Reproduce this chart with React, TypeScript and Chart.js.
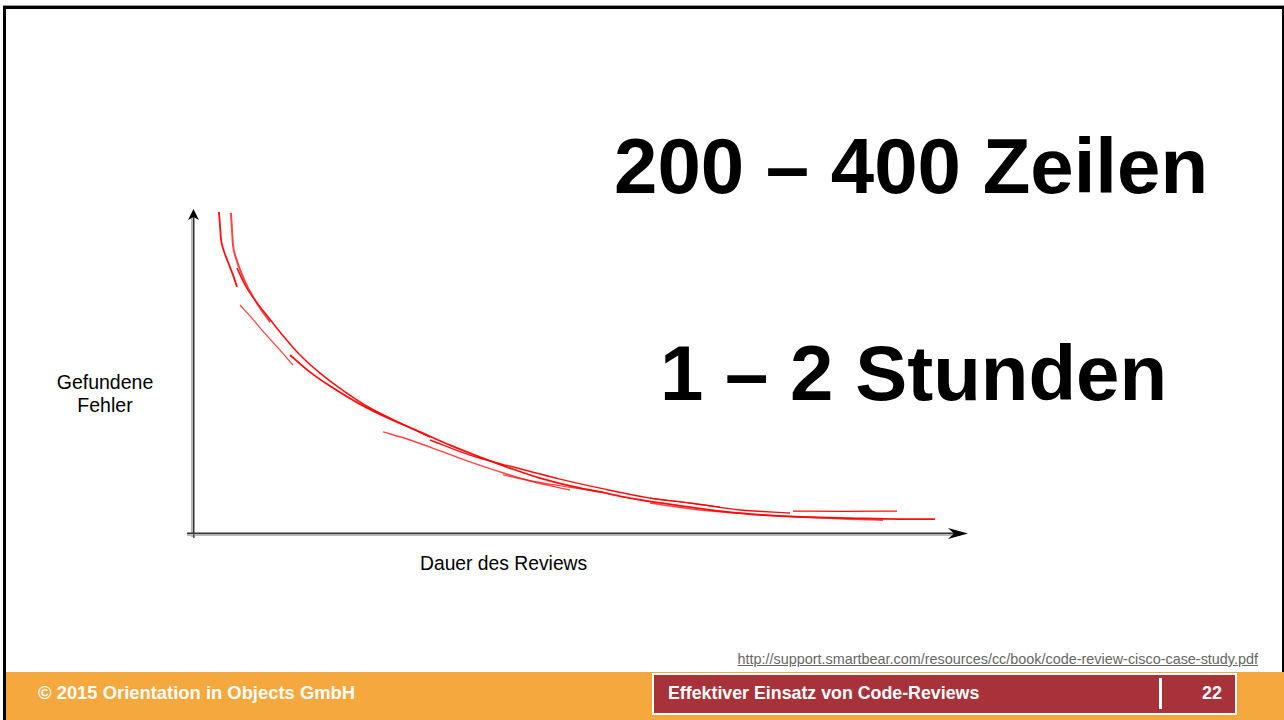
import React, { useEffect, useRef } from "react";
import { Chart, registerables } from "chart.js";

Chart.register(...registerables);

// Hand-drawn strokes of the curve "Gefundene Fehler" vs. "Dauer des Reviews"
// x: review duration (0..100), y: found defects (0..100)
const strokeA: [number, number][] = [
  [3.35, 99.4], [3.48, 95.4], [3.6, 91.3], [3.87, 88.2], [4.52, 83.9], [5.16, 79.9], [5.68, 76.2],
];
const strokeB: [number, number][] = [
  [4.9, 99.1], [5.03, 93.8], [5.16, 89.2], [5.55, 85.1], [6.19, 80.8], [7.1, 75.9], [8.39, 70.6], [9.94, 65.3],
];
const strokeC: [number, number][] = [
  [5.68, 82.0], [6.71, 76.8], [8.0, 72.1], [9.29, 68.1], [11.23, 62.2], [13.81, 55.1], [16.39, 49.5],
  [19.61, 43.7], [22.84, 38.7], [26.71, 34.1], [30.58, 29.7],
];
const strokeD: [number, number][] = [
  [6.06, 70.6], [7.35, 67.2], [8.9, 62.8], [10.97, 57.3], [12.9, 52.0],
];
const strokeE: [number, number][] = [
  [12.52, 55.1], [15.1, 49.8], [17.68, 45.5], [21.55, 39.9], [25.42, 35.3], [29.29, 31.3], [33.16, 27.2],
  [37.03, 23.5], [40.9, 20.1], [44.77, 17.0], [48.65, 14.6], [52.52, 12.7], [56.39, 10.8], [60.26, 9.3],
  [64.13, 8.0], [68.0, 6.8], [73.16, 5.6], [78.32, 5.0], [84.77, 4.6], [91.23, 4.3], [95.74, 4.3],
];
const strokeF: [number, number][] = [
  [24.52, 31.3], [28.0, 28.8], [32.26, 25.1], [35.74, 22.0], [39.61, 18.9], [43.48, 16.1], [48.65, 13.3],
];
const strokeG: [number, number][] = [
  [30.58, 28.8], [35.74, 24.1], [40.9, 20.7], [47.35, 16.7], [52.52, 13.9], [58.97, 10.8], [64.13, 9.3],
  [70.58, 7.1], [77.03, 6.2],
];
const strokeH: [number, number][] = [
  [58.97, 9.3], [65.42, 7.1], [71.87, 5.9], [78.32, 5.0], [84.77, 4.3], [89.03, 4.0],
];
const strokeI: [number, number][] = [
  [77.42, 6.8], [84.0, 6.7], [90.84, 6.8],
];
const strokeJ: [number, number][] = [
  [40.0, 18.0], [44.0, 16.0], [48.5, 14.2], [53.0, 12.6],
];
const strokeK: [number, number][] = [
  [58.97, 10.8], [63.0, 9.6], [68.0, 8.0],
];

const strokes = [strokeA, strokeB, strokeC, strokeD, strokeE, strokeF, strokeG, strokeH, strokeI, strokeJ, strokeK];
const strokeWidths = [1.8, 2.0, 1.5, 1.3, 1.8, 1.4, 1.4, 1.6, 1.3, 1.2, 1.2];

const xTitle = "Dauer des Reviews";
const yTitle = ["Gefundene", "Fehler"];
const headline1 = "200 – 400 Zeilen";
const headline2 = "1 – 2 Stunden";
const footerLeft = "© 2015 Orientation in Objects GmbH";
const footerTitle = "Effektiver Einsatz von Code-Reviews";
const pageNumber = "22";
const sourceUrl = "http://support.smartbear.com/resources/cc/book/code-review-cisco-case-study.pdf";

const FONT = "Arial, 'Liberation Sans', sans-serif";

const axesPlugin = {
  id: "arrowAxes",
  beforeDatasetsDraw(chart: any) {
    const ctx = chart.ctx;
    const xs = chart.scales.x;
    const ys = chart.scales.y;
    const x0 = xs.getPixelForValue(0);
    const y0 = ys.getPixelForValue(0);
    const xEnd = xs.getPixelForValue(100);
    const yEnd = ys.getPixelForValue(100);
    ctx.save();
    // y axis
    ctx.fillStyle = "#b8b8b8";
    ctx.fillRect(x0 - 2, yEnd + 6, 2, y0 - yEnd - 2);
    ctx.fillStyle = "#333";
    ctx.fillRect(x0, yEnd + 6, 1.5, y0 - yEnd - 2);
    // x axis
    ctx.fillStyle = "#333";
    ctx.fillRect(x0 - 6, y0 - 0.5, xEnd - x0 - 6, 1.5);
    ctx.fillStyle = "#b8b8b8";
    ctx.fillRect(x0 - 6, y0 + 1, xEnd - x0 - 6, 2);
    // origin tick
    ctx.fillStyle = "#555";
    ctx.fillRect(x0, y0, 1.5, 5);
    // arrow heads
    ctx.fillStyle = "#000";
    ctx.beginPath();
    ctx.moveTo(x0 + 0.5, yEnd - 1);
    ctx.lineTo(x0 + 6, yEnd + 10);
    ctx.lineTo(x0 + 0.5, yEnd + 7);
    ctx.lineTo(x0 - 5, yEnd + 10);
    ctx.closePath();
    ctx.fill();
    ctx.beginPath();
    ctx.moveTo(xEnd, y0 + 0.5);
    ctx.lineTo(xEnd - 20, y0 - 5);
    ctx.lineTo(xEnd - 14, y0 + 0.5);
    ctx.lineTo(xEnd - 20, y0 + 6);
    ctx.closePath();
    ctx.fill();
    ctx.restore();
  },
};

function CurveChart() {
  const ref = useRef<HTMLCanvasElement | null>(null);
  useEffect(() => {
    if (!ref.current) return;
    const chart = new Chart(ref.current, {
      type: "line",
      data: {
        datasets: strokes.map((s, i) => ({
          data: s.map(([x, y]) => ({ x, y })),
          borderColor: i % 2 === 0 ? "rgba(255,0,0,0.95)" : "rgba(255,20,20,0.8)",
          borderWidth: strokeWidths[i],
          pointRadius: 0,
          fill: false,
          tension: 0.4,
          cubicInterpolationMode: "monotone" as const,
        })),
      },
      options: {
        animation: false,
        responsive: false,
        maintainAspectRatio: false,
        layout: { padding: { left: 193, right: 316, top: 210, bottom: 187 } },
        scales: {
          x: { type: "linear", min: 0, max: 100, display: false },
          y: { type: "linear", min: 0, max: 100, display: false },
        },
        plugins: { legend: { display: false }, tooltip: { enabled: false } },
        events: [],
      },
      plugins: [axesPlugin],
    });
    return () => chart.destroy();
  }, []);
  return (
    <canvas
      ref={ref}
      width={1284}
      height={720}
      style={{ position: "absolute", left: 0, top: 0, width: 1284, height: 720 }}
    />
  );
}

export default function App() {
  const abs = (s: React.CSSProperties): React.CSSProperties => ({ position: "absolute", whiteSpace: "nowrap", ...s });
  return (
    <div
      style={{
        position: "fixed",
        left: 0,
        top: 0,
        width: 1284,
        height: 720,
        background: "#fff",
        overflow: "hidden",
        fontFamily: FONT,
      }}
    >
      {/* slide frame */}
      <div style={abs({ left: 3, top: 6, width: 1276, height: 720, border: "3px solid #000", borderBottom: "none", boxShadow: "0 -1px 0 #999" })} />
      {/* footer band */}
      <div style={abs({ left: 6, top: 672, width: 1278, height: 48, background: "#F4A83E" })} />
      <div style={abs({ left: 652, top: 673, width: 581, height: 38, background: "#A8323A", border: "2px solid #fff" })} />
      <div style={abs({ left: 1159, top: 678, width: 3, height: 31, background: "#fff" })} />
      <div style={abs({ left: 38, top: 684, fontSize: 18.4, lineHeight: "18px", fontWeight: 700, color: "#fff" })}>{footerLeft}</div>
      <div style={abs({ left: 668, top: 684, fontSize: 17.8, lineHeight: "18px", fontWeight: 700, color: "#fff" })}>{footerTitle}</div>
      <div style={abs({ left: 1180, width: 42, textAlign: "right", top: 684, fontSize: 18, lineHeight: "18px", fontWeight: 700, color: "#fff" })}>{pageNumber}</div>
      <div style={abs({ left: 600, width: 658, textAlign: "right", top: 652, fontSize: 14.4, lineHeight: "14px", color: "#666", textDecoration: "underline" })}>{sourceUrl}</div>
      {/* headline texts */}
      <div style={abs({ left: 614, top: 127, fontSize: 78, lineHeight: "78px", fontWeight: 700, color: "#000" })}>{headline1}</div>
      <div style={abs({ left: 660, top: 334, fontSize: 78, lineHeight: "78px", fontWeight: 700, color: "#000" })}>{headline2}</div>
      {/* axis titles */}
      <div style={abs({ left: 40, width: 130, top: 371, fontSize: 19.5, lineHeight: "23px", color: "#000", textAlign: "center" })}>
        {yTitle[0]}
        <br />
        {yTitle[1]}
      </div>
      <div style={abs({ left: 420, top: 554, fontSize: 19.3, lineHeight: "19px", color: "#000" })}>{xTitle}</div>
      <CurveChart />
    </div>
  );
}
